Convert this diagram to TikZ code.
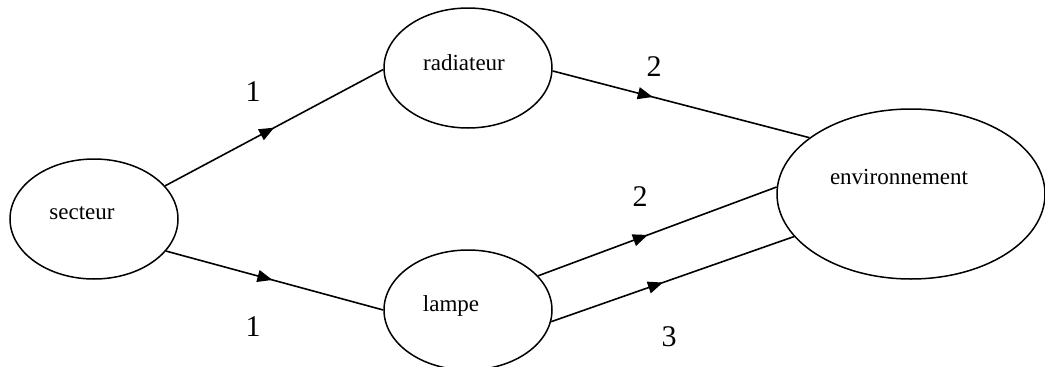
\documentclass[tikz,border=0pt]{standalone}
\usepackage{fontspec}
\setmainfont{Liberation Serif}
\usetikzlibrary{shapes.geometric,arrows.meta,decorations.markings}
\tikzset{
  state/.style={draw, ellipse, line width=1.5pt, inner sep=0pt, minimum width=168pt, minimum height=120pt},
  big/.style={state, minimum width=268pt, minimum height=170pt},
  nlabel/.style={font=\fontsize{23}{26}\selectfont},
  num/.style={font=\fontsize{30}{34}\selectfont, inner sep=0pt},
  flow/.style={line width=1.6pt, postaction={decorate}, decoration={markings,
     mark=at position #1 with {\arrow{Triangle[length=15pt,width=12pt]}}}},
}
\begin{document}
\begin{tikzpicture}[x=1pt,y=-1pt]
\useasboundingbox (0,0) rectangle (1045,367);
\clip (0,0) rectangle (1045,367);
\node[state, label={[nlabel,xshift=-12pt,yshift=6pt]center:secteur}] (sec) at (94,219) {};
\node[state, label={[nlabel,xshift=-4pt,yshift=5pt]center:radiateur}] (rad) at (468,68) {};
\node[state, label={[nlabel,xshift=-17pt,yshift=4pt]center:lampe}] (lam) at (468,310) {};
\node[big, label={[nlabel,xshift=-12pt,yshift=17pt]center:environnement}] (env) at (911,194) {};

\draw[flow=0.5] (sec.25.3) -- (rad.181);
\draw[flow=0.49] (sec.-24.6) -- (lam.180);
\draw[flow=0.39] (rad.-2) -- (env.151);
\draw[flow=0.46] (lam.26.9) -- (env.177.4);
\draw[flow=0.46] (lam.-8.7) -- (env.200.9);

\node[num] (l1) at (253,92) {1};
\node[num] (l2) at (253,327) {1};
\node[num] (l3) at (654,67) {2};
\node[num] (l4) at (640,197) {2};
\node[num] (l5) at (669,337) {3};
\end{tikzpicture}
\end{document}
